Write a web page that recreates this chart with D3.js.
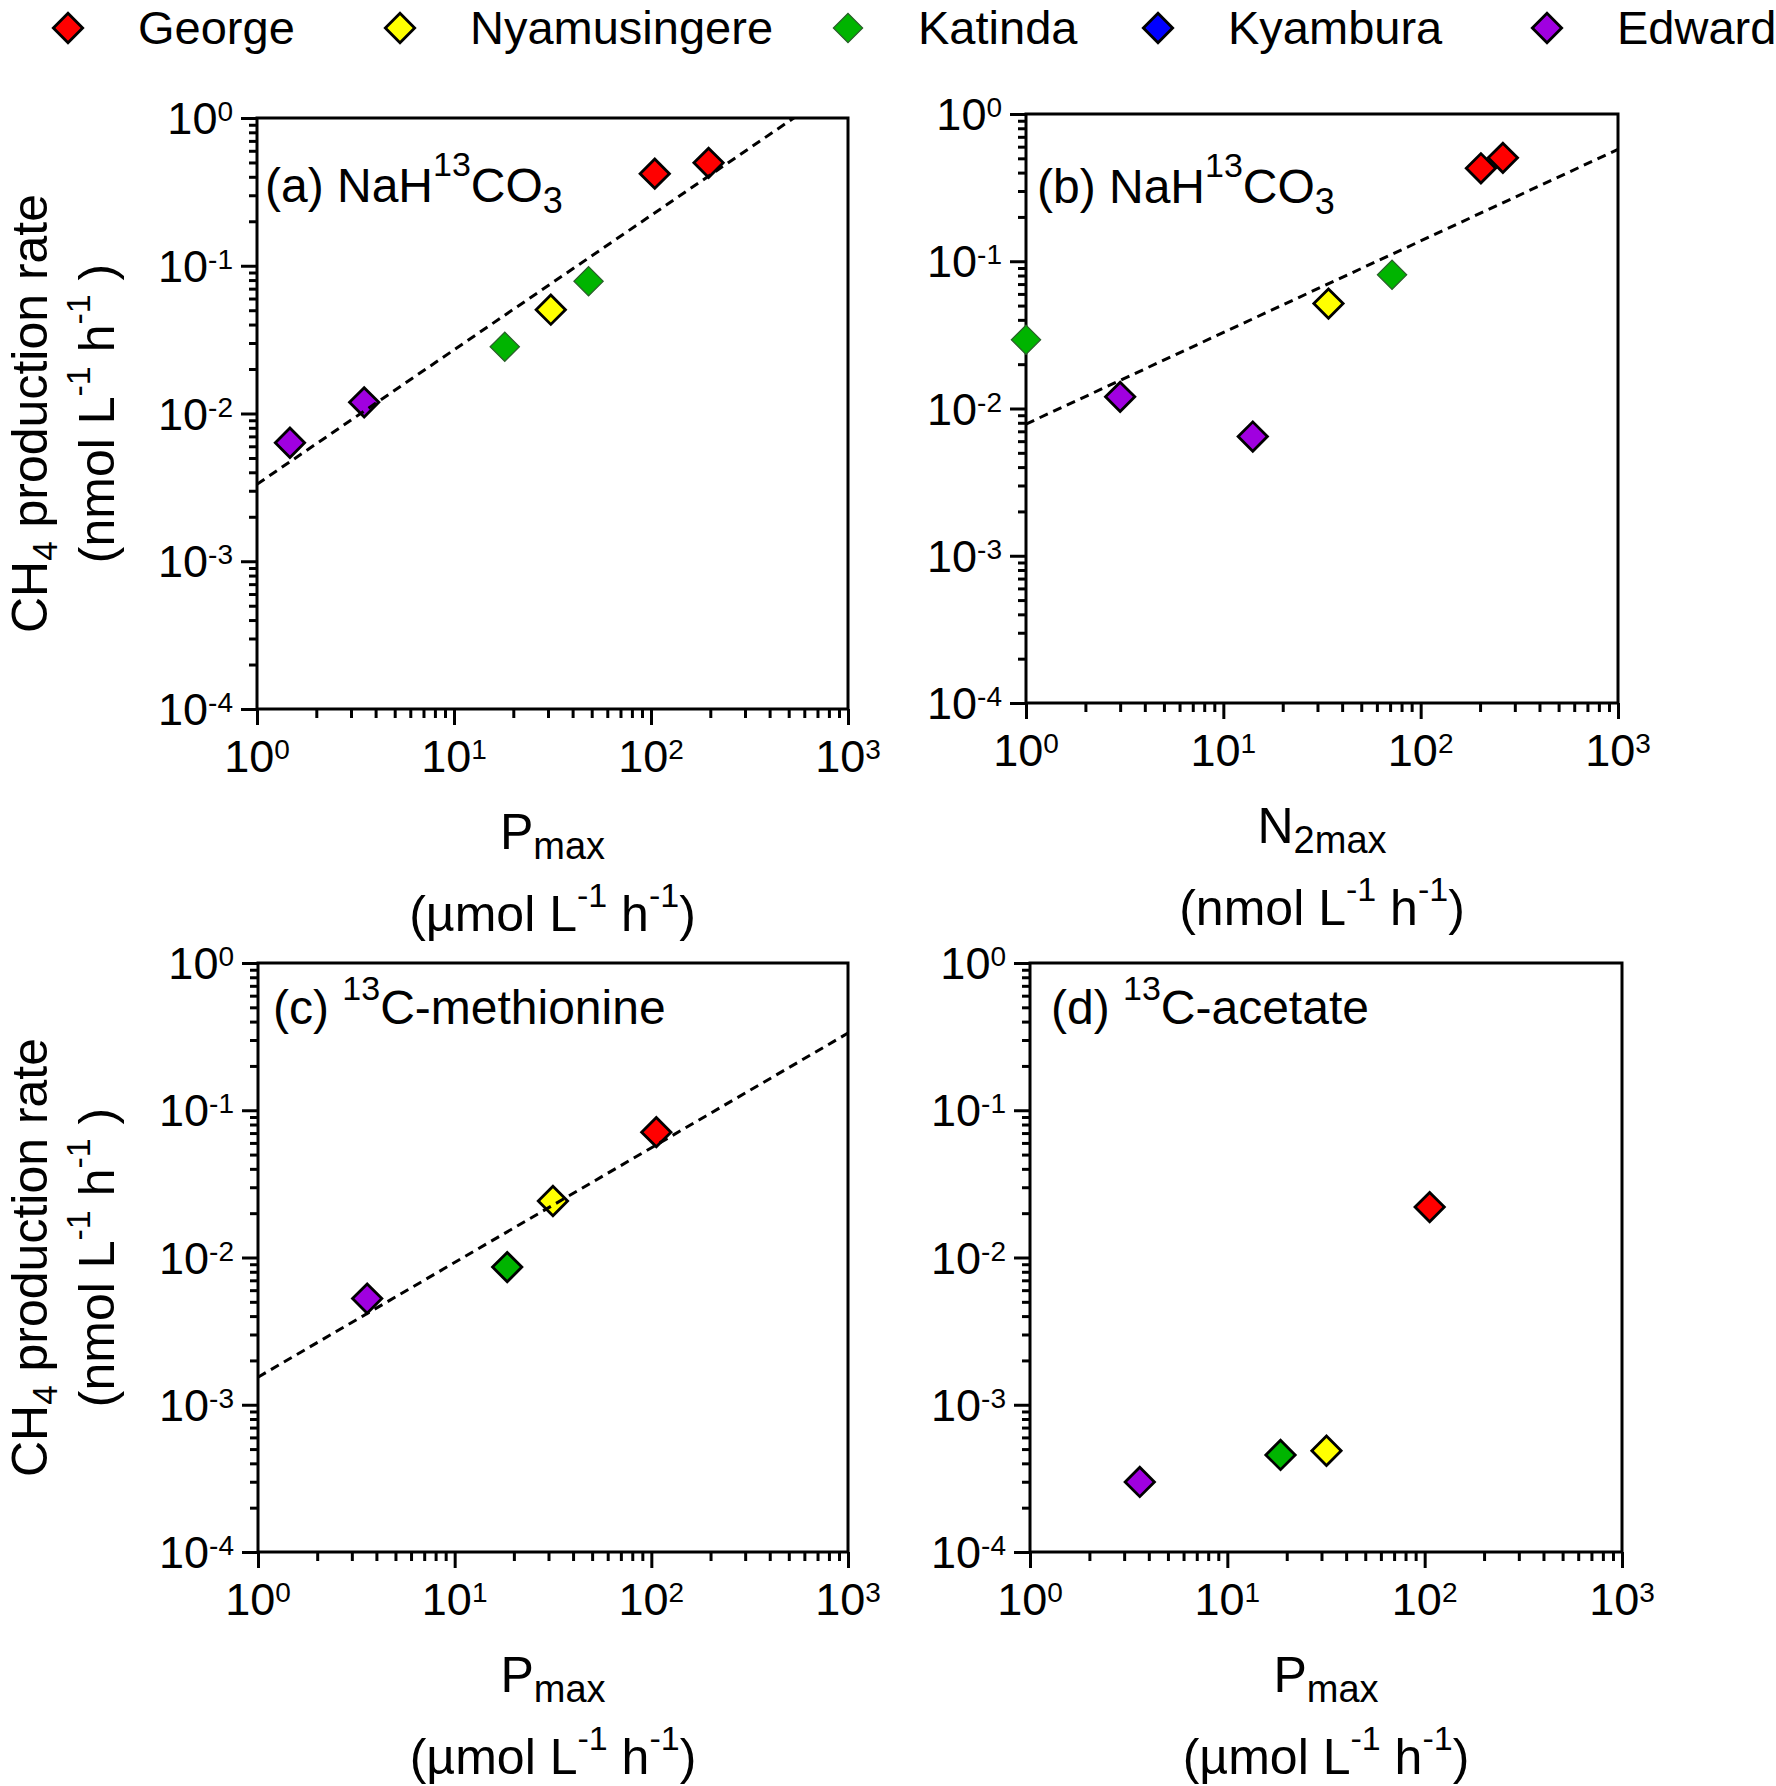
<!DOCTYPE html>
<html>
<head>
<meta charset="utf-8">
<script src="https://cdnjs.cloudflare.com/ajax/libs/d3/7.8.5/d3.min.js"></script>
<style>
   body { margin: 0; background: #fff; }
   svg { display: block; font-family: 'Liberation Sans', Arial, sans-serif; white-space: pre; }
</style>
</head>
<body>
<script>
   // lakes (legend order) and their colours
   let lakes = ['George', 'Nyamusingere', 'Katinda', 'Kyambura', 'Edward'];
   let lakeColors = ['#ff0000', '#ffff00', '#00b400', '#0000ff', '#a000e0'];

   // (a) NaH13CO3 vs Pmax
   let aLake = ['Edward', 'Edward', 'Katinda', 'Nyamusingere', 'Katinda', 'George', 'George'];
   let aX = [1.47, 3.5, 18.1, 31.0, 48.2, 104.5, 196];
   let aY = [0.00634, 0.0119, 0.0283, 0.0504, 0.0785, 0.42, 0.497];

   // (b) NaH13CO3 vs N2max
   let bLake = ['Katinda', 'Edward', 'Edward', 'Nyamusingere', 'Katinda', 'George', 'George'];
   let bX = [1.0, 3.0, 14.1, 34.1, 71.6, 202, 261];
   let bY = [0.0293, 0.012, 0.00645, 0.0516, 0.0809, 0.428, 0.504];

   // (c) 13C-methionine vs Pmax
   let cLake = ['Edward', 'Katinda', 'Nyamusingere', 'George'];
   let cX = [3.59, 18.5, 31.6, 106];
   let cY = [0.00526, 0.00861, 0.0242, 0.071];

   // (d) 13C-acetate vs Pmax
   let dLake = ['Edward', 'Katinda', 'Nyamusingere', 'George'];
   let dX = [3.6, 18.6, 31.8, 106];
   let dY = [0.000299, 0.000456, 0.000487, 0.022];

   // dashed fit lines, end values read at x = 1 and x = 1000
   let fitX = [1, 1000];
   let aFitY = [0.00332, 1.78];
   let bFitY = [0.00784, 0.575];
   let cFitY = [0.00154, 0.334];

   // axis ticks
   let xTicks = [1, 10, 100, 1000];
   let yTicks = [0.0001, 0.001, 0.01, 0.1, 1];

   // canvas
   let width = 1776;
   let height = 1786;
   let svg = d3.select('body').append('svg')
      .attr('width', width)
      .attr('height', height);

   let colorScale = d3.scaleOrdinal().domain(lakes).range(lakeColors);
   let diamond = d3.symbol(d3.symbolSquare, 430);

   // text made of pieces: [text, font size, baseline offset]
   let richText = (sel, parts) => {
      let shift = 0;
      parts.forEach(([txt, size, off]) => {
         sel.append('tspan')
            .attr('font-size', size)
            .attr('dy', off - shift)
            .text(txt);
         shift = off;
      });
      return sel;
   };

   let pTitle = [['P', 50, 0], ['max', 38, 10]];
   let nTitle = [['N', 50, 0], ['2max', 38, 10]];
   let umolUnit = [['(µmol L', 50, 0], ['-1', 34, -24], [' h', 50, 0], ['-1', 34, -24], [')', 50, 0]];
   let nmolUnit = [['(nmol L', 50, 0], ['-1', 34, -24], [' h', 50, 0], ['-1', 34, -24], [')', 50, 0]];

   let panels = [
      { key: 'a', lake: aLake, xs: aX, ys: aY, fit: aFitY, left: 257, right: 848, top: 118, bottom: 709,
        label: [['(a) NaH', 48, 0], ['13', 34, -26], ['CO', 48, 0], ['3', 36, 11]], lx: 8, ly: 84,
        xTitle: pTitle, xUnit: umolUnit, yTitle: true, thin: ['Katinda'] },
      { key: 'b', lake: bLake, xs: bX, ys: bY, fit: bFitY, left: 1026, right: 1618, top: 114, bottom: 703,
        label: [['(b) NaH', 48, 0], ['13', 34, -26], ['CO', 48, 0], ['3', 36, 11]], lx: 11, ly: 89,
        xTitle: nTitle, xUnit: nmolUnit, yTitle: false, thin: ['Katinda'] },
      { key: 'c', lake: cLake, xs: cX, ys: cY, fit: cFitY, left: 258, right: 848, top: 963, bottom: 1552,
        label: [['(c) ', 48, 0], ['13', 34, -24], ['C-methionine', 48, 0]], lx: 15, ly: 61,
        xTitle: pTitle, xUnit: umolUnit, yTitle: true, thin: [] },
      { key: 'd', lake: dLake, xs: dX, ys: dY, fit: null, left: 1030, right: 1622, top: 963, bottom: 1552,
        label: [['(d) ', 48, 0], ['13', 34, -24], ['C-acetate', 48, 0]], lx: 21, ly: 61,
        xTitle: pTitle, xUnit: umolUnit, yTitle: false, thin: [] }
   ];

   let isDecade = (v) => Math.abs(Math.log10(v) - Math.round(Math.log10(v))) < 1e-9;

   let styleTicks = (g) => {
      g.select('.domain').remove();
      g.selectAll('line').attr('stroke', '#000').attr('stroke-width', 3);
   };

   let drawMarker = (sel, lake, thin) => {
      sel.attr('d', diamond)
         .attr('fill', colorScale(lake))
         .attr('stroke', thin ? '#2b5e2b' : '#000')
         .attr('stroke-width', thin ? 1.2 : 2.8)
         .attr('stroke-linejoin', 'miter');
   };

   let drawPanel = (p) => {
      let xScale = d3.scaleLog().domain([1, 1000]).range([p.left, p.right]);
      let yScale = d3.scaleLog().domain([0.0001, 1]).range([p.bottom, p.top]);
      let g = svg.append('g').attr('id', 'panel-' + p.key);

      // minor and major ticks
      let xMinor = xScale.ticks().filter((v) => !isDecade(v));
      let yMinor = yScale.ticks().filter((v) => !isDecade(v));
      g.append('g')
         .attr('transform', 'translate(0, ' + p.bottom + ')')
         .call(d3.axisBottom(xScale).tickValues(xMinor).tickSize(9).tickFormat(''))
         .call(styleTicks);
      g.append('g')
         .attr('transform', 'translate(0, ' + p.bottom + ')')
         .call(d3.axisBottom(xScale).tickValues(xTicks).tickSize(16).tickFormat(''))
         .call(styleTicks);
      g.append('g')
         .attr('transform', 'translate(' + p.left + ', 0)')
         .call(d3.axisLeft(yScale).tickValues(yMinor).tickSize(8).tickFormat(''))
         .call(styleTicks);
      g.append('g')
         .attr('transform', 'translate(' + p.left + ', 0)')
         .call(d3.axisLeft(yScale).tickValues(yTicks).tickSize(16).tickFormat(''))
         .call(styleTicks);

      // tick labels as 10 with exponent
      xTicks.forEach((v) => {
         richText(g.append('text')
            .attr('x', xScale(v))
            .attr('y', p.bottom + 63)
            .attr('text-anchor', 'middle'),
            [['10', 45, 0], [String(Math.round(Math.log10(v))), 28, -13]]);
      });
      yTicks.forEach((v) => {
         richText(g.append('text')
            .attr('x', p.left - 24)
            .attr('y', yScale(v) + 16)
            .attr('text-anchor', 'end'),
            [['10', 45, 0], [String(Math.round(Math.log10(v))), 28, -13]]);
      });

      // plot frame
      g.append('rect')
         .attr('x', p.left)
         .attr('y', p.top)
         .attr('width', p.right - p.left)
         .attr('height', p.bottom - p.top)
         .attr('fill', 'none')
         .attr('stroke', '#000')
         .attr('stroke-width', 3);

      // panel label
      richText(g.append('text')
         .attr('x', p.left + p.lx)
         .attr('y', p.top + p.ly), p.label);

      // points
      let pts = p.xs.map((x, i) => ({ x: x, y: p.ys[i], lake: p.lake[i] }));
      g.selectAll('path.pt')
         .data(pts)
         .enter()
         .append('path')
         .attr('class', 'pt')
         .attr('transform', (d) => 'translate(' + xScale(d.x) + ',' + yScale(d.y) + ') rotate(45)')
         .each(function (d) { drawMarker(d3.select(this), d.lake, p.thin.includes(d.lake)); });

      // dashed fit line clipped to the plot area
      if (p.fit) {
         g.append('clipPath')
            .attr('id', 'clip-' + p.key)
            .append('rect')
            .attr('x', p.left)
            .attr('y', p.top)
            .attr('width', p.right - p.left)
            .attr('height', p.bottom - p.top);
         let line = d3.line().x((d) => xScale(d[0])).y((d) => yScale(d[1]));
         g.append('path')
            .datum(fitX.map((x, i) => [x, p.fit[i]]))
            .attr('d', line)
            .attr('clip-path', 'url(#clip-' + p.key + ')')
            .attr('fill', 'none')
            .attr('stroke', '#000')
            .attr('stroke-width', 3)
            .attr('stroke-dasharray', '9,6');
      }

      // axis titles
      let cx = (p.left + p.right) / 2;
      richText(g.append('text').attr('x', cx).attr('y', p.bottom + 140).attr('text-anchor', 'middle'), p.xTitle);
      richText(g.append('text').attr('x', cx).attr('y', p.bottom + 222).attr('text-anchor', 'middle'), p.xUnit);
      if (p.yTitle) {
         let cy = (p.top + p.bottom) / 2;
         richText(g.append('text')
            .attr('transform', 'translate(47, ' + cy + ') rotate(-90)')
            .attr('text-anchor', 'middle'),
            [['CH', 50, 0], ['4', 35, 10], [' production rate', 50, 0]]);
         richText(g.append('text')
            .attr('transform', 'translate(114, ' + cy + ') rotate(-90)')
            .attr('text-anchor', 'middle'),
            [['(nmol L', 50, 0], ['-1', 34, -24], [' h', 50, 0], ['-1', 34, -24], [' )', 50, 0]]);
      }
   };

   let drawLegend = () => {
      let legendX = [68, 400, 848, 1158, 1547];    // diamond centres
      let items = svg.append('g').attr('id', 'legend')
         .selectAll('g')
         .data(lakes)
         .enter()
         .append('g')
         .attr('transform', (d, i) => 'translate(' + legendX[i] + ', 28)');
      items.append('path')
         .attr('transform', 'rotate(45)')
         .each(function (d) { drawMarker(d3.select(this), d, d === 'Katinda'); });
      items.append('text')
         .attr('x', 70)
         .attr('y', 16)
         .attr('font-size', 47)
         .text((d) => d);
   };

   panels.forEach(drawPanel);
   drawLegend();
</script>
</body>
</html>
